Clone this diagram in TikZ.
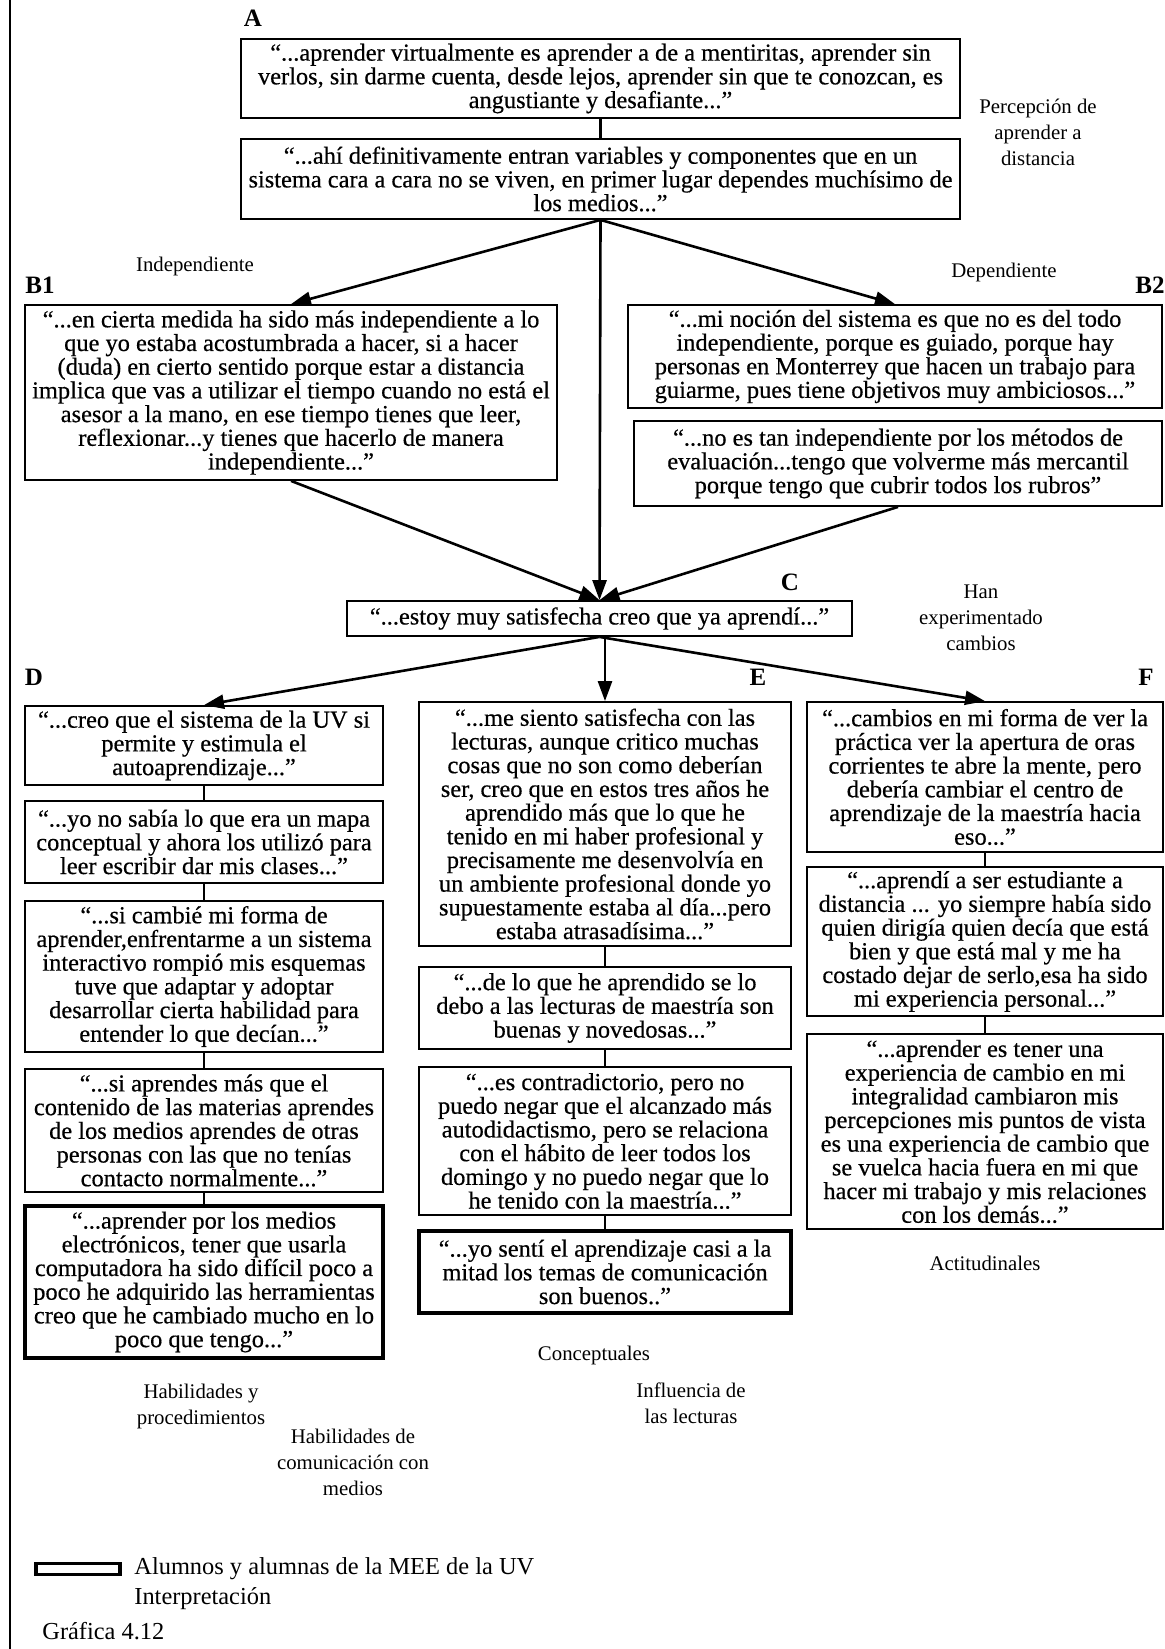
\documentclass[tikz,border=0pt]{standalone}
\usepackage{fontspec}
\setmainfont{Liberation Serif}
\newfontfamily\quoteserif[FakeBold=0.5]{Liberation Serif}
\usepackage{tikz}
\usetikzlibrary{arrows.meta}

\newcommand\quotefont{\quoteserif\fontsize{12.2}{11.85}\selectfont}
\newcommand\notefont{\fontsize{10.4}{13}\selectfont}
\newcommand\legendfont{\fontsize{12.2}{14}\selectfont}

\begin{document}
\begin{tikzpicture}
      [x=0.5pt, y=-0.5pt,
      quote/.style={draw=black, line width=0.9pt, fill=white, inner sep=0pt, align=center, font=\quotefont},
      heavy/.style={quote, line width=1.8pt},
      boxsize/.style 2 args={minimum width={#1*0.5pt}, minimum height={#2*0.5pt}},
      note/.style={align=center, font=\notefont},
      letter/.style={font=\fontsize{12.5}{14}\selectfont\bfseries},
      arr/.style={-{Triangle[length=10pt, width=7pt]}, line width=1.3pt},
      link/.style={-, line width=1.1pt}]
      \useasboundingbox (0, 0) rectangle (1165, 1649);
      \draw[line width=1.3pt] (10, 0) -- (10, 1649);
      % percepcion
      \node (lA) at (253, 18) [letter] {A};
      \node (a1) at (600.5, 78.5) [quote, boxsize={719}{79}]
      {“...aprender virtualmente es aprender a de a mentiritas, aprender sin\\
      verlos, sin darme cuenta, desde lejos, aprender sin que te conozcan, es\\
      angustiante y desafiante...”};
      \node (a2) at (600.5, 179) [quote, boxsize={719}{80}]
      {“...ahí definitivamente entran variables y componentes que en un\\
      sistema cara a cara no se viven, en primer lugar dependes muchísimo de\\
      los medios...”}
      edge[link] (a1);
      \node (percep) at (1038, 132) [note] {Percepción de\\aprender a\\distancia};
      % independiente / dependiente
      \node (indep) at (195, 266) [note] {Independiente};
      \node (dep) at (1004, 272) [note] {Dependiente};
      \node (lB1) at (40, 285) [letter] {B1};
      \node (lB2) at (1150, 285) [letter] {B2};
      \node (b1) at (291, 392.5) [quote, boxsize={532}{175}]
      {“...en cierta medida ha sido más independiente a lo\\
      que yo estaba acostumbrada a hacer, si a hacer\\
      (duda) en cierto sentido porque estar a distancia\\
      implica que vas a utilizar el tiempo cuando no está el\\
      asesor a la mano, en ese tiempo tienes que leer,\\
      reflexionar...y tienes que hacerlo de manera\\
      independiente...”};
      \node (b2a) at (895, 356.5) [quote, boxsize={534}{103}]
      {“...mi noción del sistema es que no es del todo\\
      independiente, porque es guiado, porque hay\\
      personas en Monterrey que hacen un trabajo para\\
      guiarme, pues tiene objetivos muy ambiciosos...”};
      \node (b2b) at (898, 463.5) [quote, boxsize={528}{85}]
      {“...no es tan independiente por los métodos de\\
      evaluación...tengo que volverme más mercantil\\
      porque tengo que cubrir todos los rubros”};
      % satisfaccion
      \node (lC) at (790, 582) [letter] {C};
      \node (c) at (599.5, 618.5) [quote, boxsize={505}{35}]
      {“...estoy muy satisfecha creo que ya aprendí...”};
      \node (cambios) at (981, 618) [note] {Han\\experimentado\\cambios};
      \draw[arr] (a2.south) -- (b1.north);
      \draw[arr] (a2.south) -- (b2a.north);
      \draw[arr] (a2.south) -- (c.north);
      \draw[arr] (b1.south) -- (c.north);
      \draw[arr] (b2b.south) -- (c.north);
      % habilidades y procedimientos
      \node (lD) at (34, 677) [letter] {D};
      \node (d1) at (204, 745.5) [quote, boxsize={358}{79}]
      {“...creo que el sistema de la UV si\\
      permite y estimula el\\
      autoaprendizaje...”};
      \node (d2) at (204, 842) [quote, boxsize={358}{82}]
      {“...yo no sabía lo que era un mapa\\
      conceptual y ahora los utilizó para\\
      leer escribir dar mis clases...”}
      edge[link] (d1);
      \node (d3) at (204, 976.5) [quote, boxsize={358}{151}]
      {“...si cambié mi forma de\\
      aprender,enfrentarme a un sistema\\
      interactivo rompió mis esquemas\\
      tuve que adaptar y adoptar\\
      desarrollar cierta habilidad para\\
      entender lo que decían...”}
      edge[link] (d2);
      \node (d4) at (204, 1130.5) [quote, boxsize={358}{123}]
      {“...si aprendes más que el\\
      contenido de las materias aprendes\\
      de los medios aprendes de otras\\
      personas con las que no tenías\\
      contacto normalmente...”}
      edge[link] (d3);
      \node (d5) at (204, 1282) [heavy, boxsize={358}{152}]
      {“...aprender por los medios\\
      electrónicos, tener que usarla\\
      computadora ha sido difícil poco a\\
      poco he adquirido las herramientas\\
      creo que he cambiado mucho en lo\\
      poco que tengo...”}
      edge[link] (d4);
      % conceptuales
      \node (lE) at (758, 677) [letter] {E};
      \node (e1) at (605, 824) [quote, boxsize={372}{244}]
      {“...me siento satisfecha con las\\
      lecturas, aunque critico muchas\\
      cosas que no son como deberían\\
      ser, creo que en estos tres años he\\
      aprendido más que lo que he\\
      tenido en mi haber profesional y\\
      precisamente me desenvolvía en\\
      un ambiente profesional donde yo\\
      supuestamente estaba al día...pero\\
      estaba atrasadísima...”};
      \node (e2) at (605, 1008) [quote, boxsize={372}{82}]
      {“...de lo que he aprendido se lo\\
      debo a las lecturas de maestría son\\
      buenas y novedosas...”}
      edge[link] (e1);
      \node (e3) at (605, 1141) [quote, boxsize={372}{148}]
      {“...es contradictorio, pero no\\
      puedo negar que el alcanzado más\\
      autodidactismo, pero se relaciona\\
      con el hábito de leer todos los\\
      domingo y no puedo negar que lo\\
      he tenido con la maestría...”}
      edge[link] (e2);
      \node (e4) at (605, 1272) [heavy, boxsize={372}{82}]
      {“...yo sentí el aprendizaje casi a la\\
      mitad los temas de comunicación\\
      son buenos..”}
      edge[link] (e3);
      % actitudinales
      \node (lF) at (1146, 677) [letter] {F};
      \node (f1) at (985, 777) [quote, boxsize={356}{150}]
      {“...cambios en mi forma de ver la\\
      práctica ver la apertura de oras\\
      corrientes te abre la mente, pero\\
      debería cambiar el centro de\\
      aprendizaje de la maestría hacia\\
      eso...”};
      \node (f2) at (985, 941.5) [quote, boxsize={356}{149}]
      {“...aprendí a ser estudiante a\\
      distancia ... yo siempre había sido\\
      quien dirigía quien decía que está\\
      bien y que está mal y me ha\\
      costado dejar de serlo,esa ha sido\\
      mi experiencia personal...”}
      edge[link] (f1);
      \node (f3) at (985, 1131.5) [quote, boxsize={356}{195}]
      {“...aprender es tener una\\
      experiencia de cambio en mi\\
      integralidad cambiaron mis\\
      percepciones mis puntos de vista\\
      es una experiencia de cambio que\\
      se vuelca hacia fuera en mi que\\
      hacer mi trabajo y mis relaciones\\
      con los demás...”}
      edge[link] (f2);
      \draw[arr] (c.south) -- (d1.north);
      \draw[arr] (e1.north |- c.south) -- (e1.north);
      \draw[arr] (c.south) -- (f1.north);
      % categorias
      \node (actit) at (985, 1263) [note] {Actitudinales};
      \node (concep) at (594, 1355) [note] {Conceptuales};
      \node (lectur) at (691, 1403) [note] {Influencia de\\las lecturas};
      \node (habil) at (201, 1406) [note] {Habilidades y\\procedimientos};
      \node (comun) at (353, 1462) [note] {Habilidades de\\comunicación con\\medios};
      % leyenda
      \node (legend) at (78, 1569) [draw=black, line width=1.8pt, inner sep=0pt, boxsize={84}{11}] {};
      \node (alumnos) at (134, 1569) [anchor=west, inner sep=0pt, font=\legendfont] {Alumnos y alumnas de la MEE de la UV};
      \node (interp) at (134, 1599) [anchor=west, inner sep=0pt, font=\legendfont] {Interpretación};
      \node (grafica) at (42, 1631) [anchor=west, inner sep=0pt, font=\legendfont] {Gráfica 4.12};
\end{tikzpicture}
\end{document}
